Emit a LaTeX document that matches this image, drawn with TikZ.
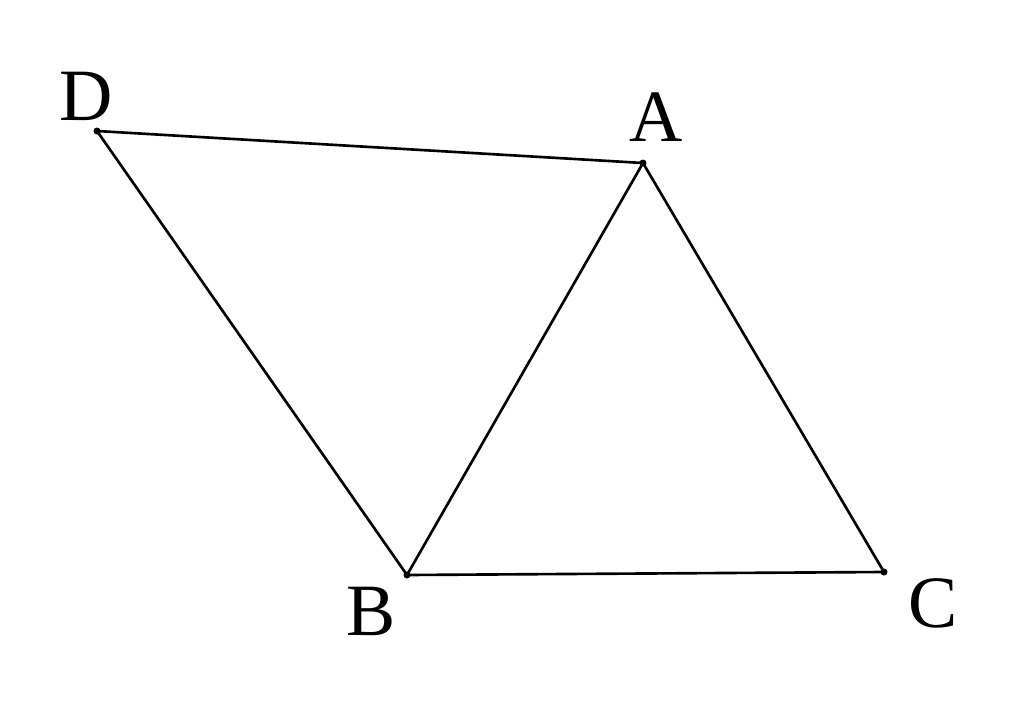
\documentclass[tikz,border=0pt]{standalone}
\usepackage{fontspec}
\setmainfont{Liberation Serif}
\begin{document}
\begin{tikzpicture}[
  edge/.style={line width=0.75pt, black},
  pt/.style={circle, fill=black, inner sep=0pt, minimum size=0.07cm},
  lbl/.style={font=\fontsize{21}{25}\selectfont, inner sep=0pt}
]
\useasboundingbox (0,0) rectangle (10.24,7.12);
\node[pt] (D) at (0.97,5.81) {};
\node[pt] (A) at (6.43,5.49) {};
\node[pt] (B) at (4.07,1.37) {};
\node[pt] (C) at (8.84,1.40) {};
\draw[edge] (D.center) -- (A.center) -- (C.center) -- (B.center) -- (D.center);
\draw[edge] (A.center) -- (B.center);
\node[lbl] (lD) at (0.86,6.16) {D};
\node[lbl] (lA) at (6.56,5.95) {A};
\node[lbl] (lB) at (3.71,1.01) {B};
\node[lbl] (lC) at (9.33,1.09) {C};
\end{tikzpicture}
\end{document}
